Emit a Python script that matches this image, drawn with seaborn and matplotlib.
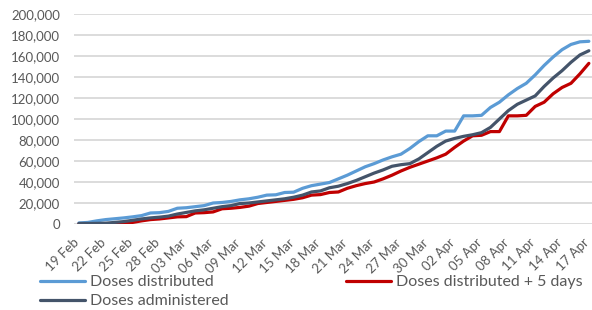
import numpy as np
import pandas as pd
import matplotlib
matplotlib.use("Agg")
import matplotlib.pyplot as plt
import matplotlib.ticker as mticker
import matplotlib.transforms as mtransforms
import seaborn as sns

# ── Data (one value per day, 19 Feb – 17 Apr) ──────────────────────────────────
days = pd.date_range("2021-02-19", "2021-04-17", freq="D")

distributed = [
    1000, 1500, 3000, 4200, 5000, 5800, 6800, 8000, 10500, 10800,
    12000, 15000, 15500, 16500, 17500, 20000, 20500, 21500, 23000, 24000,
    25500, 27500, 27800, 30000, 30300, 34000, 36500, 38000, 39500, 43000,
    46500, 50500, 54500, 57500, 61000, 64000, 66500, 72000, 78500, 84000,
    84000, 88500, 88500, 103000, 103000, 103500, 111000, 116000, 123000, 129000,
    134000, 142000, 151000, 159000, 166000, 171000, 173500, 174000,
]
distributed_plus5 = [
    0, 0, 0, 300, 500, 800, 1500, 3000, 4200, 4800,
    5800, 6800, 7000, 10500, 10800, 11500, 14500, 15000, 15800, 17000,
    19500, 20500, 21500, 22500, 23500, 25000, 27500, 28000, 30000, 30500,
    34000, 36500, 38500, 40000, 43000, 46500, 50500, 54000, 57000, 60000,
    63000, 66500, 73000, 79000, 84000, 84500, 88000, 88000, 103000, 103000,
    103500, 112000, 116000, 124000, 130000, 134000, 143000, 153000,
]
administered = [
    500, 500, 600, 800, 1500, 2300, 3500, 4800, 5800, 6500,
    7500, 9500, 11000, 12500, 13500, 15000, 16500, 17500, 19500, 20000,
    21000, 22000, 23000, 24000, 25500, 27500, 30500, 31500, 34500, 36000,
    38500, 41500, 45000, 48500, 51500, 55000, 56500, 57500, 62000, 68000,
    74000, 79000, 81500, 83500, 85000, 87000, 92000, 100000, 108000, 114000,
    118000, 122000, 131000, 139000, 146000, 154000, 161000, 165000,
]

series_names = ["Doses distributed", "Doses distributed + 5 days", "Doses administered"]
series_colors = ["#5B9BD5", "#C00000", "#44546A"]

y_ticks = [0, 20000, 40000, 60000, 80000, 100000, 120000, 140000, 160000, 180000, 200000]

# ── Build long table ──────────────────────────────────────────────────────────
day_idx = np.arange(len(days))
df = pd.concat([
    pd.DataFrame({"day": day_idx, "value": vals, "series": name})
    for name, vals in zip(series_names, [distributed, distributed_plus5, administered])
])

# ── Plot ─────────────────────────────────────────────────────────────────────
sns.set_theme(style="white")
plt.rcParams["font.family"] = ["Lato", "DejaVu Sans"]

fig = plt.figure(figsize=(5.92, 3.10), dpi=100)
ax = fig.add_axes([74 / 592, 1 - 224 / 310, 1 - 74 / 592, 210 / 310])

sns.lineplot(data=df, x="day", y="value", hue="series", hue_order=series_names,
             palette=series_colors, linewidth=2.3, ax=ax, legend=False)

ax.set_xlim(-0.55, len(days) - 1 + 0.35)
ax.set_ylim(0, 200000)
ax.set_yticks(y_ticks)
ax.yaxis.set_major_formatter(mticker.FuncFormatter(lambda v, _: f"{v:,.0f}"))
ax.tick_params(axis="y", labelsize=9.5, labelcolor="#595959", length=0, pad=10)

tick_pos = day_idx[::3]
ax.set_xticks(tick_pos)
ax.set_xticklabels([days[i].strftime("%d %b") for i in tick_pos],
                   rotation=45, ha="right", va="top", rotation_mode="anchor",
                   fontsize=9.5, color="#595959")
ax.tick_params(axis="x", length=0, pad=9)
shift = mtransforms.ScaledTranslation(-0.06, 0, fig.dpi_scale_trans)
for lbl in ax.get_xticklabels():
    lbl.set_transform(lbl.get_transform() + shift)

ax.set_xlabel("")
ax.set_ylabel("")
ax.grid(axis="y", color="#D9D9D9", linewidth=1.3)
ax.grid(axis="x", visible=False)
for s in ax.spines.values():
    s.set_visible(False)
ax.set_axisbelow(True)

# legend: col 1 -> distributed / administered, col 2 -> distributed + 5 days
lines = ax.get_lines()
order = [0, 2, 1]
fig.legend([lines[i] for i in order], [series_names[i] for i in order],
           ncol=2, loc="upper left", bbox_to_anchor=(40 / 592, 1 - 275 / 310),
           frameon=False, fontsize=11.5, labelcolor="#595959",
           handlelength=2.8, handletextpad=0.3, columnspacing=7.4,
           labelspacing=0.3, borderpad=0, borderaxespad=0)

fig.savefig("out.png", dpi=100)
